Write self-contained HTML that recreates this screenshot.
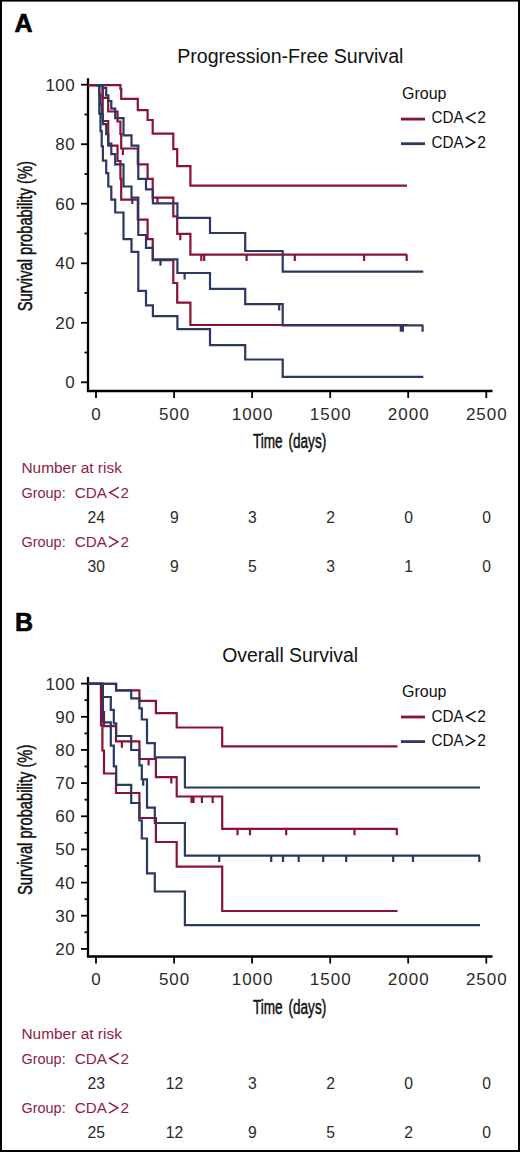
<!DOCTYPE html>
<html><head><meta charset="utf-8"><style>
html,body{margin:0;padding:0;background:#fff;}
svg{display:block;}
text{font-family:"Liberation Sans",sans-serif;fill:#111;}
.lab{font-weight:bold;font-size:25px;fill:#000;stroke:#000;stroke-width:0.6px;}
.ttl{font-size:19.5px;}
.tl{font-size:17px;fill:#2a2a2a;letter-spacing:1px;}
.ty{letter-spacing:0.4px;}
.lg{font-size:16px;}
.lgc{font-size:15.6px;}
.at{font-size:19px;stroke:#111;stroke-width:0.5px;}
.yl{font-size:20px;}
.xl{font-size:20px;word-spacing:3px;}
.nr{font-size:15.2px;fill:#8e1d42;}
.nn{font-size:15.7px;fill:#2a2a2a;}
.ax{fill:none;stroke:#000;stroke-width:2.3;}
.tk{fill:none;stroke:#000;stroke-width:1.8;}
.cr{fill:none;stroke:#8a1236;stroke-width:2.2;}
.cb{fill:none;stroke:#2a3862;stroke-width:2.2;}
</style></head><body>
<svg width="520" height="1152" viewBox="0 0 520 1152">
<rect x="0" y="0" width="520" height="1.6" fill="#000"/><rect x="0" y="0" width="2" height="1152" fill="#000"/><rect x="518" y="0" width="2" height="1152" fill="#000"/><rect x="0" y="1150" width="520" height="2" fill="#000"/>
<text x="14.4" y="32.3" class="lab">A</text>
<text x="177.2" y="63.2" class="ttl" textLength="226.2" lengthAdjust="spacingAndGlyphs">Progression-Free Survival</text>
<path d="M88 78.2 V391 H492.5" class="ax"/>
<path d="M81 84.7 H88" class="tk"/>
<text x="75.0" y="90.6" class="tl ty" text-anchor="end">100</text>
<path d="M81 144.2 H88" class="tk"/>
<text x="75.0" y="150.1" class="tl ty" text-anchor="end">80</text>
<path d="M81 203.7 H88" class="tk"/>
<text x="75.0" y="209.6" class="tl ty" text-anchor="end">60</text>
<path d="M81 263.3 H88" class="tk"/>
<text x="75.0" y="269.2" class="tl ty" text-anchor="end">40</text>
<path d="M81 322.8 H88" class="tk"/>
<text x="75.0" y="328.7" class="tl ty" text-anchor="end">20</text>
<path d="M81 382.3 H88" class="tk"/>
<text x="75.0" y="388.2" class="tl ty" text-anchor="end">0</text>
<path d="M84.5 114.5 H88" class="tk"/>
<path d="M84.5 174.0 H88" class="tk"/>
<path d="M84.5 233.5 H88" class="tk"/>
<path d="M84.5 293.0 H88" class="tk"/>
<path d="M84.5 352.5 H88" class="tk"/>
<path d="M96.0 391 V398" class="tk"/>
<text x="96.5" y="419.7" class="tl" text-anchor="middle">0</text>
<path d="M174.1 391 V398" class="tk"/>
<text x="174.6" y="419.7" class="tl" text-anchor="middle">500</text>
<path d="M252.1 391 V398" class="tk"/>
<text x="252.6" y="419.7" class="tl" text-anchor="middle">1000</text>
<path d="M330.2 391 V398" class="tk"/>
<text x="330.7" y="419.7" class="tl" text-anchor="middle">1500</text>
<path d="M408.2 391 V398" class="tk"/>
<text x="408.7" y="419.7" class="tl" text-anchor="middle">2000</text>
<path d="M486.3 391 V398" class="tk"/>
<text x="486.8" y="419.7" class="tl" text-anchor="middle">2500</text>
<text transform="translate(289.6 448.3) scale(0.68 1)" class="at xl" text-anchor="middle">Time (days)</text>
<text transform="translate(32.2 236.2) rotate(-90) scale(0.735 1)" class="at yl" text-anchor="middle">Survival probability (%)</text>
<text x="402" y="98.7" class="lg">Group</text>
<path d="M401 119.1 H425" stroke="#8a1236" stroke-width="2.8"/>
<text x="431.5" y="123.3" class="lgc" textLength="32.2" lengthAdjust="spacingAndGlyphs">CDA</text>
<path d="M475.6 112.6L466.5 117.9L475.6 123.1" fill="none" stroke="#111" stroke-width="1.5" stroke-linejoin="miter"/>
<text x="477.3" y="123.3" class="lgc">2</text>
<path d="M401 143.7 H425" stroke="#2a3862" stroke-width="2.8"/>
<text x="431.5" y="147.7" class="lgc" textLength="32.2" lengthAdjust="spacingAndGlyphs">CDA</text>
<path d="M465.6 137.0L474.7 142.2L465.6 147.5" fill="none" stroke="#111" stroke-width="1.5" stroke-linejoin="miter"/>
<text x="477.3" y="147.7" class="lgc">2</text>
<path class="cr" d="M88 85.2H102.7V85.2H108.2V85.2H117.5V85.2H120.4V88.9H121.2V98.8H137.8V110.2H147.6V120.0H152.7V133.7H173.3V149.2H177.2V166.2H190.4V185.6H407"/>
<path class="cr" d="M88 85.2H102.7V97.9H108.2V111.5H117.5V121.5H120.4V134.0H121.2V148.5H137.8V164.4H147.6V178.8H152.7V197.6H173.3V216.3H177.2V233.8H190.4V254.6H407"/>
<path class="cr" d="M88 85.2H102.7V121.0H108.2V145.6H117.5V161.0H120.4V178.7H121.2V199.7H137.8V219.6H147.6V239.1H152.7V260.2H173.3V283.0H177.2V302.6H190.4V325.0H407"/>
<path class="cr" d="M122.9 148.5v6.4M157.5 197.6v6.4M180.3 233.8v6.4M201.3 254.6v6.4M204.2 254.6v6.4M246.6 254.6v6.4M294.8 254.6v6.4M364.1 254.6v6.4M406.7 254.6v6.4"/>
<path class="cb" d="M95.7 85.2H99.3V85.2H100.5V85.2H101.7V85.2H102.9V87.8H106.2V95.3H108.3V101.0H111.3V108.6H115.2V118.2H123.5V135.4H131.5V145.6H138.3V178.9H146.0V189.4H152.9V203.4H177.4V217.8H210.0V233.0H245.2V251.0H282.7V271.7H423.3"/>
<path class="cb" d="M95.7 85.2H99.3V94.5H100.5V104.6H101.7V114.5H102.9V124.2H106.2V134.2H108.3V143.7H111.3V154.2H115.2V164.4H123.5V186.5H131.5V197.5H138.3V235.0H146.0V247.9H152.9V259.3H177.4V273.0H210.0V288.8H245.2V304.1H282.7V325.4H423.3"/>
<path class="cb" d="M95.7 85.2H99.3V113.6H100.5V131.1H101.7V146.3H102.9V160.6H106.2V173.1H108.3V186.5H111.3V199.7H115.2V212.5H123.5V239.1H131.5V251.8H138.3V290.9H146.0V305.3H152.9V316.2H177.4V329.2H210.0V345.1H245.2V359.5H282.7V376.8H423.3"/>
<path class="cb" d="M132.3 197.5v6.4M160.5 259.3v6.4M184.6 273.0v6.4M279.2 304.1v6.4M400.8 325.4v6.4M402.9 325.4v6.4M422.6 325.4v6.4"/>
<text x="21.4" y="473.3" class="nr" textLength="100.5" lengthAdjust="spacingAndGlyphs">Number at risk</text>
<text x="21.4" y="497.8" class="nr" textLength="44.3" lengthAdjust="spacingAndGlyphs">Group:</text>
<text x="74.7" y="498.0" class="nr" textLength="32.2" lengthAdjust="spacingAndGlyphs">CDA</text>
<path d="M118.8 487.3L109.7 492.6L118.8 497.8" fill="none" stroke="#8e1d42" stroke-width="1.5" stroke-linejoin="miter"/>
<text x="120.5" y="498.0" class="nr">2</text>
<text x="96.3" y="522.7" class="nn" text-anchor="middle">24</text>
<text x="174.4" y="522.7" class="nn" text-anchor="middle">9</text>
<text x="252.4" y="522.7" class="nn" text-anchor="middle">3</text>
<text x="330.5" y="522.7" class="nn" text-anchor="middle">2</text>
<text x="408.5" y="522.7" class="nn" text-anchor="middle">0</text>
<text x="486.6" y="522.7" class="nn" text-anchor="middle">0</text>
<text x="21.4" y="547.3" class="nr" textLength="44.3" lengthAdjust="spacingAndGlyphs">Group:</text>
<text x="74.7" y="547.3" class="nr" textLength="32.2" lengthAdjust="spacingAndGlyphs">CDA</text>
<path d="M108.8 536.6L117.9 541.8L108.8 547.1" fill="none" stroke="#8e1d42" stroke-width="1.5" stroke-linejoin="miter"/>
<text x="120.5" y="547.3" class="nr">2</text>
<text x="96.3" y="571.8" class="nn" text-anchor="middle">30</text>
<text x="174.4" y="571.8" class="nn" text-anchor="middle">9</text>
<text x="252.4" y="571.8" class="nn" text-anchor="middle">5</text>
<text x="330.5" y="571.8" class="nn" text-anchor="middle">3</text>
<text x="408.5" y="571.8" class="nn" text-anchor="middle">1</text>
<text x="486.6" y="571.8" class="nn" text-anchor="middle">0</text>
<text x="15.0" y="631.0" class="lab">B</text>
<text x="222.2" y="661.9" class="ttl" textLength="136" lengthAdjust="spacingAndGlyphs">Overall Survival</text>
<path d="M88 676.9 V956.5 H492.5" class="ax"/>
<path d="M81 683.6 H88" class="tk"/>
<text x="75.0" y="689.5" class="tl ty" text-anchor="end">100</text>
<path d="M81 716.8 H88" class="tk"/>
<text x="75.0" y="722.7" class="tl ty" text-anchor="end">90</text>
<path d="M81 749.9 H88" class="tk"/>
<text x="75.0" y="755.8" class="tl ty" text-anchor="end">80</text>
<path d="M81 783.1 H88" class="tk"/>
<text x="75.0" y="789.0" class="tl ty" text-anchor="end">70</text>
<path d="M81 816.3 H88" class="tk"/>
<text x="75.0" y="822.2" class="tl ty" text-anchor="end">60</text>
<path d="M81 849.4 H88" class="tk"/>
<text x="75.0" y="855.3" class="tl ty" text-anchor="end">50</text>
<path d="M81 882.6 H88" class="tk"/>
<text x="75.0" y="888.5" class="tl ty" text-anchor="end">40</text>
<path d="M81 915.7 H88" class="tk"/>
<text x="75.0" y="921.6" class="tl ty" text-anchor="end">30</text>
<path d="M81 948.9 H88" class="tk"/>
<text x="75.0" y="954.8" class="tl ty" text-anchor="end">20</text>
<path d="M84.5 700.2 H88" class="tk"/>
<path d="M84.5 733.4 H88" class="tk"/>
<path d="M84.5 766.5 H88" class="tk"/>
<path d="M84.5 799.7 H88" class="tk"/>
<path d="M84.5 832.8 H88" class="tk"/>
<path d="M84.5 866.0 H88" class="tk"/>
<path d="M84.5 899.2 H88" class="tk"/>
<path d="M84.5 932.3 H88" class="tk"/>
<path d="M96.0 956.5 V963.5" class="tk"/>
<text x="96.5" y="985.2" class="tl" text-anchor="middle">0</text>
<path d="M174.1 956.5 V963.5" class="tk"/>
<text x="174.6" y="985.2" class="tl" text-anchor="middle">500</text>
<path d="M252.1 956.5 V963.5" class="tk"/>
<text x="252.6" y="985.2" class="tl" text-anchor="middle">1000</text>
<path d="M330.2 956.5 V963.5" class="tk"/>
<text x="330.7" y="985.2" class="tl" text-anchor="middle">1500</text>
<path d="M408.2 956.5 V963.5" class="tk"/>
<text x="408.7" y="985.2" class="tl" text-anchor="middle">2000</text>
<path d="M486.3 956.5 V963.5" class="tk"/>
<text x="486.8" y="985.2" class="tl" text-anchor="middle">2500</text>
<text transform="translate(289.6 1013.8) scale(0.68 1)" class="at xl" text-anchor="middle">Time (days)</text>
<text transform="translate(32.2 819.8) rotate(-90) scale(0.735 1)" class="at yl" text-anchor="middle">Survival probability (%)</text>
<text x="402" y="696.6" class="lg">Group</text>
<path d="M401 717.0 H425" stroke="#8a1236" stroke-width="2.8"/>
<text x="431.5" y="722.1" class="lgc" textLength="32.2" lengthAdjust="spacingAndGlyphs">CDA</text>
<path d="M475.6 711.4L466.5 716.6L475.6 721.9" fill="none" stroke="#111" stroke-width="1.5" stroke-linejoin="miter"/>
<text x="477.3" y="722.1" class="lgc">2</text>
<path d="M401 741.6 H425" stroke="#2a3862" stroke-width="2.8"/>
<text x="431.5" y="746.1" class="lgc" textLength="32.2" lengthAdjust="spacingAndGlyphs">CDA</text>
<path d="M465.6 735.4L474.7 740.7L465.6 745.9" fill="none" stroke="#111" stroke-width="1.5" stroke-linejoin="miter"/>
<text x="477.3" y="746.1" class="lgc">2</text>
<path class="cr" d="M88 683.8H101.0V683.8H102.4V683.8H104.0V683.8H116.0V690.3H139.4V700.8H155.9V713.1H176.7V727.5H222.2V746.3H397.5"/>
<path class="cr" d="M88 683.8H101.0V698.0H102.4V712.0H104.0V726.2H116.0V741.3H139.4V759.0H155.9V777.2H176.7V796.5H222.2V828.8H397.5"/>
<path class="cr" d="M88 683.8H101.0V725.4H102.4V750.5H104.0V773.5H116.0V793.0H139.4V818.0H155.9V842.0H176.7V866.7H222.2V911.0H397.5"/>
<path class="cr" d="M121.9 741.3v6.4M148.6 759.0v6.4M171.3 777.2v6.4M191.5 796.5v6.4M193.5 796.5v6.4M201.9 796.5v6.4M212.7 796.5v6.4M237.5 828.8v6.4M250 828.8v6.4M286.2 828.8v6.4M354.5 828.8v6.4M396.8 828.8v6.4"/>
<path class="cb" d="M88 683.8H102.9V683.8H110.8V683.8H113.8V683.8H116.2V690.3H131.2V698.4H139.4V708.4H141.8V719.5H147.0V743.2H154.8V757.3H184.9V787.5H480"/>
<path class="cb" d="M88 683.8H102.9V697.0H110.8V709.8H113.8V723.3H116.2V736.0H131.2V750.0H139.4V765.3H141.8V779.4H147.0V807.7H154.8V823.0H184.9V855.7H480"/>
<path class="cb" d="M88 683.8H102.9V722.4H110.8V745.6H113.8V766.3H116.2V784.8H131.2V803.0H139.4V820.5H141.8V838.5H147.0V873.3H154.8V891.5H184.9V925.2H480"/>
<path class="cb" d="M143.2 779.4v6.4M219.2 855.7v6.4M271.2 855.7v6.4M283 855.7v6.4M298.7 855.7v6.4M323.2 855.7v6.4M346.2 855.7v6.4M393.2 855.7v6.4M413 855.7v6.4M479.3 855.7v6.4"/>
<text x="21.4" y="1039.3" class="nr" textLength="100.5" lengthAdjust="spacingAndGlyphs">Number at risk</text>
<text x="21.4" y="1063.8" class="nr" textLength="44.3" lengthAdjust="spacingAndGlyphs">Group:</text>
<text x="74.7" y="1064.0" class="nr" textLength="32.2" lengthAdjust="spacingAndGlyphs">CDA</text>
<path d="M118.8 1053.3L109.7 1058.5L118.8 1063.8" fill="none" stroke="#8e1d42" stroke-width="1.5" stroke-linejoin="miter"/>
<text x="120.5" y="1064.0" class="nr">2</text>
<text x="96.3" y="1088.7" class="nn" text-anchor="middle">23</text>
<text x="174.4" y="1088.7" class="nn" text-anchor="middle">12</text>
<text x="252.4" y="1088.7" class="nn" text-anchor="middle">3</text>
<text x="330.5" y="1088.7" class="nn" text-anchor="middle">2</text>
<text x="408.5" y="1088.7" class="nn" text-anchor="middle">0</text>
<text x="486.6" y="1088.7" class="nn" text-anchor="middle">0</text>
<text x="21.4" y="1113.3" class="nr" textLength="44.3" lengthAdjust="spacingAndGlyphs">Group:</text>
<text x="74.7" y="1113.3" class="nr" textLength="32.2" lengthAdjust="spacingAndGlyphs">CDA</text>
<path d="M108.8 1102.6L117.9 1107.8L108.8 1113.1" fill="none" stroke="#8e1d42" stroke-width="1.5" stroke-linejoin="miter"/>
<text x="120.5" y="1113.3" class="nr">2</text>
<text x="96.3" y="1137.8" class="nn" text-anchor="middle">25</text>
<text x="174.4" y="1137.8" class="nn" text-anchor="middle">12</text>
<text x="252.4" y="1137.8" class="nn" text-anchor="middle">9</text>
<text x="330.5" y="1137.8" class="nn" text-anchor="middle">5</text>
<text x="408.5" y="1137.8" class="nn" text-anchor="middle">2</text>
<text x="486.6" y="1137.8" class="nn" text-anchor="middle">0</text>
</svg>
</body></html>
